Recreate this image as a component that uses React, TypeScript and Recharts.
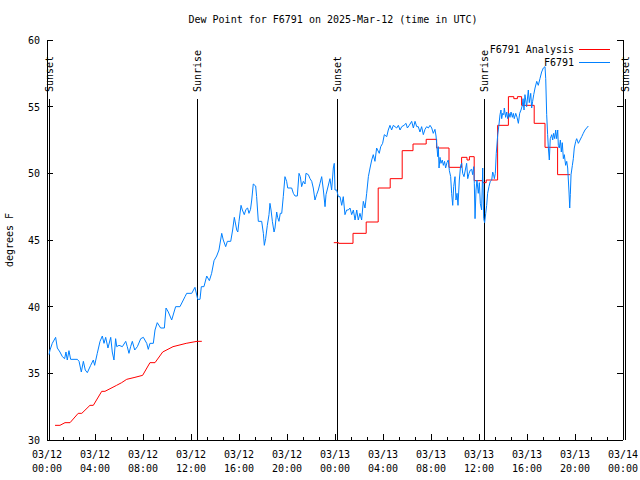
import React from 'react';
import { LineChart, Line, XAxis, YAxis, ReferenceLine, Legend } from 'recharts';

const FONT = '"DejaVu Sans Mono", "Liberation Mono", monospace';
const BLUE = '#0080ff';
const RED = '#ff0000';

// ---- Observations (F6791), hours since 03/12 00:00 UTC ----
const obsHoursA = [0.17,0.25,0.44,0.72,0.86, 1.08,1.28,1.47,1.58,1.69, 1.83,1.97,2.25,2.53,2.67, 2.86,3.03,3.19,3.36,3.64, 3.86,3.97,4.19,4.42,4.61, 4.75,4.89,5.08,5.31,5.44, 5.58,5.72,5.81,6.0,6.28, 6.56,6.69,6.83,6.97,7.11, 7.31,7.53,7.81,8.03,8.31, 8.44,8.58,8.86];
const obsDewA = [36.4,36.75,37.25,37.7,36.9, 36.6,36.25,36.1,36.6,36.0, 36.7,36.05,36.05,36.05,35.9, 35.1,35.9,35.25,35.05,35.6, 36.0,35.6,36.5,37.4,37.8, 37.25,37.7,36.9,37.7,36.6, 36.0,37.6,37.0,37.1,37.0, 37.4,37.0,36.5,37.0,37.4, 36.75,37.0,37.6,37.7,37.25, 36.8,37.25,37.25];

const obsHoursB = [9.0,9.19,9.47,9.78,9.92, 10.11,10.39,10.72,11.08,11.5, 11.64,12.06,12.33,12.56,12.75, 12.86,13.08,13.31,13.53,13.72, 13.92,14.14,14.33,14.56,14.69, 14.89,15.03,15.31,15.47,15.61, 15.81,15.9,16.0];
const obsDewB = [38.25,38.8,38.4,38.4,39.9, 39.6,39.0,40.0,40.0,40.75, 41.0,41.0,41.45,40.55,40.55, 41.5,41.5,42.3,41.95,42.5, 43.45,43.8,44.25,45.5,45.0, 44.5,44.9,44.9,45.75,46.7, 45.75,45.6,46.4];

const obsHoursC = [16.17,16.28,16.44,16.58,16.72, 16.83,16.96,17.06,17.19,17.39, 17.47,17.61,17.89,18.03,18.11, 18.22,18.36,18.5,18.58,18.67, 18.78,18.92,19.0,19.14,19.22, 19.33,19.44,19.56,19.69,19.83, 19.97,20.06,20.25,20.39,20.53, 20.67,20.86,21.0,21.11,21.22, 21.36,21.5,21.58,21.78,21.92, 22.06,22.19,22.33,22.47,22.61, 22.75,22.89,23.03,23.17,23.25, 23.39,23.58,23.72,23.86,23.94, 24.0,24.14,24.28,24.42,24.56, 24.69,24.83,24.97];
const obsDewC = [47.6,47.25,46.9,47.3,47.4, 47.0,47.3,48.0,49.2,49.05, 48.25,46.4,46.4,45.5,44.6, 45.1,46.1,46.9,47.75,47.25, 46.4,45.6,45.9,47.1,46.7, 46.4,47.0,47.0,48.25,49.75, 49.4,48.9,48.9,48.9,48.5, 48.3,48.3,50.0,49.75,49.0, 49.4,49.2,50.0,49.9,49.6, 49.4,48.9,48.0,48.4,48.75, 49.25,49.75,48.75,47.5,48.4, 48.9,49.6,48.75,50.4,50.75, 48.75,48.75,48.25,48.25,47.6, 48.25,46.9,47.25];

const obsHoursD = [25.11,25.25,25.39,25.53,25.67, 25.81,25.94,26.08,26.22,26.36, 26.5,26.64,26.78,26.92,27.06, 27.19,27.33,27.47,27.69,27.81, 27.97,28.11,28.31,28.44,28.58, 28.72,28.86,29.14,29.28,29.42, 29.56,29.75,29.92,30.03,30.19, 30.39,30.53,30.67,30.81,30.94, 31.08,31.22,31.36,31.5,31.64, 31.78,31.92,32.06,32.19,32.33, 32.42,32.47,32.56,32.61,32.67, 32.75,32.83,32.94,33.03,33.13, 33.22,33.33,33.44,33.53,33.64, 33.72,33.81,33.89,34.0,34.08, 34.17,34.25,34.36,34.47,34.56, 34.64,34.75,34.86,34.97];
const obsDewD = [47.25,47.4,46.9,47.25,46.5, 47.25,46.5,47.0,46.5,47.9, 47.4,48.5,49.75,50.4,51.0, 51.4,50.9,51.9,51.5,52.0, 52.25,52.9,52.75,53.25,53.6, 53.25,53.6,53.4,53.6,53.25, 53.5,53.6,53.75,53.4,53.6, 53.9,53.4,53.9,53.5,53.5, 53.1,53.5,52.9,53.3,53.5, 53.4,53.6,53.4,53.0,53.3, 52.8,52.25,51.25,52.0,50.4, 51.2,50.75,51.0,50.6,50.9, 50.4,50.8,51.0,50.2,49.75, 48.5,47.6,49.0,49.75,48.0, 48.5,47.6,49.5,50.6,50.75, 50.0,49.75,50.25,50.75];

const obsHoursE = [35.06,35.17,35.28,35.39,35.47, 35.56,35.61,35.67,35.75,35.83, 35.94,36.03,36.11,36.22,36.31, 36.39,36.47,36.56,36.64,36.72, 36.83,36.94,37.06,37.14,37.22, 37.28,37.36,37.44,37.56,37.67, 37.75,37.83,37.89,37.97,38.06, 38.11,38.22,38.31,38.39,38.5, 38.58,38.67,38.78,38.86,38.94, 39.06,39.17,39.28,39.39,39.5, 39.61,39.67,39.75,39.83,39.97, 40.11,40.19,40.31,40.39,40.47, 40.56,40.67,40.81,40.94,41.08, 41.22,41.36,41.5,41.56,41.64, 41.72,41.78,41.86,41.94,42.06, 42.14,42.22,42.31,42.39,42.47, 42.56,42.61,42.69,42.78,42.86, 42.94,43.03,43.11,43.22,43.31, 43.39,43.5,43.56,43.61,43.67, 43.78,43.86,43.94,44.06,44.14, 44.28,44.42,44.56,44.69,44.83, 44.97,45.11];
const obsDewE = [49.6,50.0,50.25,50.3,49.9, 50.5,49.25,46.6,48.75,49.5, 48.5,49.3,47.75,47.25,50.4, 46.6,46.3,47.0,47.6,48.5, 49.0,49.4,49.5,50.1,49.9, 49.6,50.0,51.5,52.9,53.7, 54.4,54.75,54.1,54.5,54.4, 54.9,54.2,54.6,54.1,54.5, 54.2,54.6,54.2,54.5,54.1, 54.5,54.2,53.75,54.5,54.75, 55.1,55.6,54.75,55.9,55.0, 56.25,55.3,56.0,54.9,55.4, 55.9,56.4,56.9,56.6,57.1, 57.6,57.9,58.0,57.1,54.4, 52.9,51.9,51.0,52.6,52.9, 52.5,53.0,52.6,53.25,52.6, 53.25,52.1,51.9,52.5,51.6, 52.3,51.1,51.4,50.6,50.9, 50.4,48.6,47.4,48.4,49.9, 50.6,51.1,51.9,52.4,52.6, 52.25,52.5,52.75,53.0,53.25, 53.4,53.55];

// ---- Analysis (F6791 Analysis) ----
const anaHours1 = [0.67,1.08,1.5,1.92,2.6,2.9,3.58,3.86,4.56,4.83,5.8,6.22,6.64,7.33,7.97,8.58,9.0,9.64,10.5,11.6,12.5,12.9];
const anaDew1 = [31.1,31.1,31.3,31.3,32.0,32.0,32.6,32.6,33.65,33.65,34.1,34.3,34.55,34.7,34.85,35.8,35.8,36.6,37.0,37.25,37.4,37.4];
const anaHours2 = [23.9,24.3,25.5,26.6,27.6,28.6,29.6,30.5,31.6,32.47,33.5,34.55,35.0,35.2,35.6,36.3,36.6,37.55,38.45,38.9,39.2,39.55,40.6,41.5,42.55,43.6];
const anaDew2 = [44.8,44.75,45.5,46.35,48.9,49.6,51.7,52.2,52.55,51.9,50.45,51.2,51.0,51.25,49.45,49.3,49.5,53.6,55.75,55.6,55.75,55.1,53.75,51.95,49.9,49.9];

// ---- Sun events ----
const sunHours = [0.17, 12.52, 24.19, 36.44, 48.17];
const sunLabels = ['Sunset', 'Sunrise', 'Sunset', 'Sunrise', 'Sunset'];

// ---- Legend order ----
const legendOrder = ['F6791 Analysis', 'F6791'];

// ---- Axes ----
const xMajorTicks = [0, 4, 8, 12, 16, 20, 24, 28, 32, 36, 40, 44, 48];
const xTickDates = ['03/12','03/12','03/12','03/12','03/12','03/12','03/13','03/13','03/13','03/13','03/13','03/13','03/14'];
const xTickTimes = ['00:00','04:00','08:00','12:00','16:00','20:00','00:00','04:00','08:00','12:00','16:00','20:00','00:00'];
const xAllTicks: number[] = [];
for (let i = 0; i < xMajorTicks.length - 1; i++) {
  const a = xMajorTicks[i];
  const b = xMajorTicks[i + 1];
  xAllTicks.push(a, a + (b - a) / 3, a + (2 * (b - a)) / 3);
}
xAllTicks.push(xMajorTicks[xMajorTicks.length - 1]);
const yTicks = [30, 35, 40, 45, 50, 55, 60];

const zip = (hs: number[], vs: number[]) => {
  const n = Math.min(hs.length, vs.length);
  const out: { h: number; v: number }[] = [];
  for (let i = 0; i < n; i++) out.push({ h: hs[i], v: vs[i] });
  return out;
};

const obsData = [
  ...zip(obsHoursA, obsDewA),
  ...zip(obsHoursB, obsDewB),
  ...zip(obsHoursC, obsDewC),
  ...zip(obsHoursD, obsDewD),
  ...zip(obsHoursE, obsDewE),
];
const anaData1 = zip(anaHours1, anaDew1);
const anaData2 = zip(anaHours2, anaDew2);

const majorIndex = (v: number) => xMajorTicks.findIndex((t) => Math.abs(t - v) < 1e-6);

const BottomTick = (props: any) => {
  const { x, y, payload } = props;
  const idx = majorIndex(payload.value);
  const major = idx >= 0;
  return (
    <g>
      <line x1={x} y1={y} x2={x} y2={y - (major ? 6 : 3)} stroke="#000" shapeRendering="crispEdges" />
      {major && (
        <>
          <text x={x} y={y + 18} textAnchor="middle" fontFamily={FONT} fontSize={10} fill="#000">{xTickDates[idx]}</text>
          <text x={x} y={y + 32} textAnchor="middle" fontFamily={FONT} fontSize={10} fill="#000">{xTickTimes[idx]}</text>
        </>
      )}
    </g>
  );
};

const TopTick = (props: any) => {
  const { x, y, payload } = props;
  const major = majorIndex(payload.value) >= 0;
  return <line x1={x} y1={y} x2={x} y2={y + (major ? 6 : 3)} stroke="#000" shapeRendering="crispEdges" />;
};

const LeftTick = (props: any) => {
  const { x, y, payload } = props;
  return (
    <g>
      <line x1={x} y1={y} x2={x + 6} y2={y} stroke="#000" shapeRendering="crispEdges" />
      <text x={x - 7} y={y + 4} textAnchor="end" fontFamily={FONT} fontSize={10} fill="#000">{payload.value}</text>
    </g>
  );
};

const RightTick = (props: any) => {
  const { x, y } = props;
  return <line x1={x} y1={y} x2={x - 6} y2={y} stroke="#000" shapeRendering="crispEdges" />;
};

const YLabel = () => (
  <text x={13} y={240} transform="rotate(-90 13 240)" textAnchor="middle" fontFamily={FONT} fontSize={10} fill="#000">degrees F</text>
);

const makeSunLabel = (text: string) => (p: any) => {
  const vb = p.viewBox || {};
  const lx = (vb.x || 0) + 4;
  const ly = 92;
  return (
    <text x={lx} y={ly} transform={`rotate(-90 ${lx} ${ly})`} textAnchor="start" fontFamily={FONT} fontSize={10} fill="#000">{text}</text>
  );
};

const LegendContent = (props: any) => {
  const items = (props.payload || [])
    .filter((it: any) => it.type !== 'none' && legendOrder.indexOf(it.value) >= 0)
    .slice()
    .sort((a: any, b: any) => legendOrder.indexOf(a.value) - legendOrder.indexOf(b.value));
  return (
    <svg width={180} height={30} style={{ display: 'block', overflow: 'visible' }}>
      {items.map((it: any, i: number) => (
        <g key={i}>
          <text x={134} y={7 + i * 13 + 4} textAnchor="end" fontFamily={FONT} fontSize={10} fill="#000">{it.value}</text>
          <line x1={139} x2={170} y1={7.5 + i * 13} y2={7.5 + i * 13} stroke={it.color} strokeWidth={1} />
        </g>
      ))}
    </svg>
  );
};

export default function App() {
  return (
    <div style={{ position: 'absolute', left: 0, top: 0, width: 640, height: 480, background: '#fff' }}>
      <div style={{ position: 'absolute', left: 0, top: 14, width: 666, textAlign: 'center', fontFamily: FONT, fontSize: 10, lineHeight: '12px', color: '#000' }}>
        Dew Point for F6791 on 2025-Mar-12 (time in UTC)
      </div>
      <LineChart width={640} height={480} margin={{ top: 40, right: 0, bottom: 0, left: 0 }}>
        <XAxis
          xAxisId="b"
          dataKey="h"
          type="number"
          domain={[0, 48]}
          allowDataOverflow
          ticks={xAllTicks}
          interval={0}
          height={40}
          tickSize={0}
          tickMargin={0}
          tickLine={false}
          axisLine={{ stroke: '#000', shapeRendering: 'crispEdges' }}
          tick={<BottomTick />}
        />
        <XAxis
          xAxisId="t"
          orientation="top"
          dataKey="h"
          type="number"
          domain={[0, 48]}
          allowDataOverflow
          ticks={xAllTicks}
          interval={0}
          height={0}
          tickSize={0}
          tickMargin={0}
          tickLine={false}
          axisLine={{ stroke: '#000', shapeRendering: 'crispEdges' }}
          tick={<TopTick />}
        />
        <YAxis
          yAxisId="l"
          type="number"
          domain={[30, 60]}
          allowDataOverflow
          ticks={yTicks}
          interval={0}
          width={47}
          tickSize={0}
          tickMargin={0}
          tickLine={false}
          axisLine={{ stroke: '#000', shapeRendering: 'crispEdges' }}
          tick={<LeftTick />}
          label={<YLabel />}
        />
        <YAxis
          yAxisId="r"
          orientation="right"
          type="number"
          domain={[30, 60]}
          allowDataOverflow
          ticks={yTicks}
          interval={0}
          width={17}
          tickSize={0}
          tickMargin={0}
          tickLine={false}
          axisLine={{ stroke: '#000', shapeRendering: 'crispEdges' }}
          tick={<RightTick />}
        />
        {sunHours.map((h, i) => (
          <ReferenceLine
            key={'sun' + i}
            xAxisId="b"
            yAxisId="l"
            ifOverflow="visible"
            segment={[{ x: h, y: 55.58 }, { x: h, y: 30 }]}
            stroke="#000"
            strokeWidth={1}
            shapeRendering="crispEdges"
            label={makeSunLabel(sunLabels[i])}
          />
        ))}
        <Line
          xAxisId="b"
          yAxisId="l"
          data={anaData1}
          dataKey="v"
          name="F6791 Analysis"
          type="linear"
          stroke={RED}
          strokeWidth={1}
          dot={false}
          activeDot={false}
          isAnimationActive={false}
        />
        <Line
          xAxisId="b"
          yAxisId="l"
          data={anaData2}
          dataKey="v"
          name="F6791 Analysis (cont)"
          legendType="none"
          type="stepAfter"
          stroke={RED}
          strokeWidth={1}
          dot={false}
          activeDot={false}
          isAnimationActive={false}
        />
        <Line
          xAxisId="b"
          yAxisId="l"
          data={obsData}
          dataKey="v"
          name="F6791"
          type="linear"
          stroke={BLUE}
          strokeWidth={1}
          dot={false}
          activeDot={false}
          isAnimationActive={false}
        />
        <Legend
          layout="horizontal"
          verticalAlign="middle"
          align="center"
          content={<LegendContent />}
          wrapperStyle={{ position: 'absolute', left: 440, top: 42, width: 180, height: 30 }}
        />
      </LineChart>
    </div>
  );
}
